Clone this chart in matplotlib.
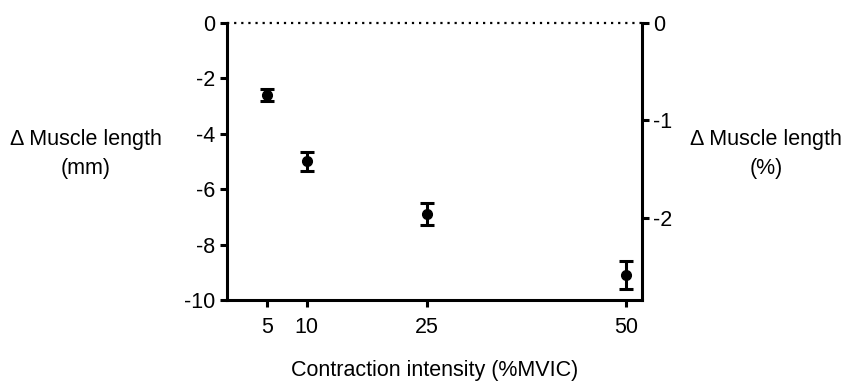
import matplotlib.pyplot as plt

plt.rcParams['font.family'] = ['Liberation Sans', 'DejaVu Sans']
plt.rcParams['axes.unicode_minus'] = False

# Data
intensity = [5, 10, 25, 50]            # %MVIC
length_change = [-2.6, -5.0, -6.9, -9.1]  # mm
length_err = [0.22, 0.35, 0.41, 0.52]     # mm
x_ticks = [5, 10, 25, 50]
left_ticks = [0, -2, -4, -6, -8, -10]
right_ticks = [0, -1, -2]

fs = 15.5

fig = plt.figure(figsize=(8.46, 3.81), dpi=100)
ax = fig.add_axes([0.268, 0.2126, 0.4905, 0.7278])

ax.errorbar(intensity, length_change, yerr=length_err, fmt='o', color='black',
            markersize=7, elinewidth=2.2, capsize=4.8, capthick=2.2)
ax.axhline(0, color='black', linestyle=(0, (1, 2.2)), linewidth=1.6, clip_on=False)

ax.set_xlim(0, 51.9)
ax.set_ylim(-10, 0)
ax.set_xticks(x_ticks)
ax.set_yticks(left_ticks)
ax.set_xlabel('Contraction intensity (%MVIC)', fontsize=fs, labelpad=16)
ax.set_ylabel('Δ Muscle length\n(mm)', fontsize=fs, rotation=0, va='center',
              ha='center', linespacing=1.5)
ax.yaxis.set_label_coords(-0.339, 0.525)

for side in ['top', 'right']:
    ax.spines[side].set_visible(False)
for side in ['left', 'bottom']:
    ax.spines[side].set_linewidth(2.2)
ax.tick_params(width=2.2, length=5, labelsize=fs, direction='out', pad=3)
ax.tick_params(axis='x', pad=7)

# right axis in %
ax2 = ax.twinx()
ax2.set_ylim(-2.844, 0)
ax2.set_yticks(right_ticks)
ax2.set_yticklabels(['0', '-1', '-2'])
for side in ['top', 'left', 'bottom']:
    ax2.spines[side].set_visible(False)
ax2.spines['right'].set_linewidth(2.2)
ax2.tick_params(width=2.2, length=5, labelsize=fs, direction='out', pad=3)
ax2.set_ylabel('Δ Muscle length\n(%)', fontsize=fs, rotation=0, va='center',
               ha='center', linespacing=1.5)
ax2.yaxis.set_label_coords(1.299, 0.525)

fig.savefig('out.png', dpi=100)
